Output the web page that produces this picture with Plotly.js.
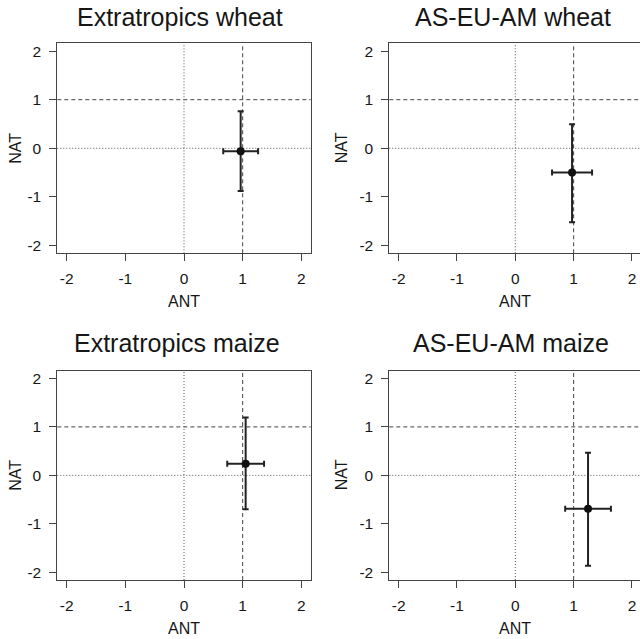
<!DOCTYPE html>
<html>
<head>
<meta charset="utf-8">
<script src="https://cdn.plot.ly/plotly-3.0.1.min.js"></script>
<style>
html,body{margin:0;padding:0;overflow:hidden;background:#fff;width:640px;height:639px;}
#chart{width:642px;height:639px;}
</style>
</head>
<body>
<div id="chart"></div>
<script>
// ---- data ----
const titles = ["Extratropics wheat", "AS-EU-AM wheat", "Extratropics maize", "AS-EU-AM maize"];
const ant = [0.966, 0.973, 1.051, 1.247];
const antErr = [0.297, 0.343, 0.314, 0.392];
const nat = [-0.062, -0.496, 0.242, -0.688];
const natErrPlus = [0.826, 0.992, 0.950, 1.157];
const natErrMinus = [0.818, 1.027, 0.944, 1.178];
const tickVals = [-2, -1, 0, 1, 2];
const tickText = ["-2", "-1", "0", "1", "2"];
const dashedRef = 1;
const dottedRef = 0;
const xLabel = "ANT";
const yLabel = "NAT";

// ---- layout geometry (pixels) ----
const W = 642, H = 639;
const colPx = [[57.3, 310.7], [389.3, 641.3]];
const rowPx = [[43.3, 253.3], [370.7, 580.0]];
const titlePos = [[180, 17.3], [512.5, 17.3], [177, 343.3], [511, 343.3]];
const xTitleY = [302, 628.5];
const yTitleX = [15.5, 341];
const FONT = "Liberation Sans, Arial, Helvetica, sans-serif";
const TXT = "#161616";

const traces = [];
const layout = {
  width: W, height: H,
  margin: {l: 0, r: 0, t: 0, b: 0, pad: 0},
  paper_bgcolor: "#fff", plot_bgcolor: "#fff",
  showlegend: false,
  font: {family: FONT, color: TXT},
  shapes: [], annotations: []
};

for (let i = 0; i < 4; i++) {
  const r = Math.floor(i / 2), c = i % 2;
  const sfx = i === 0 ? "" : String(i + 1);
  const xa = "x" + sfx, ya = "y" + sfx;
  traces.push({
    type: "scatter", mode: "markers",
    x: [ant[i]], y: [nat[i]],
    xaxis: xa, yaxis: ya,
    marker: {size: 8, color: "#111"},
    error_x: {type: "data", array: [antErr[i]], thickness: 2, width: 3, color: "#222"},
    error_y: {type: "data", symmetric: false, array: [natErrPlus[i]], arrayminus: [natErrMinus[i]], thickness: 2, width: 3, color: "#222"},
    hoverinfo: "skip"
  });
  const axCommon = {
    range: [-2.16, 2.16], tickvals: tickVals, ticktext: tickText,
    ticks: "outside", ticklen: 7, tickwidth: 1, tickcolor: "#444",
    showline: true, mirror: true, linecolor: "#444", linewidth: 1,
    showgrid: false, zeroline: false, fixedrange: true,
    tickfont: {family: FONT, size: 15.5, color: TXT}
  };
  layout["xaxis" + sfx] = Object.assign({}, axCommon, {
    domain: [colPx[c][0] / W, colPx[c][1] / W], anchor: ya, ticklabelstandoff: 4
  });
  layout["yaxis" + sfx] = Object.assign({}, axCommon, {
    domain: [1 - rowPx[r][1] / H, 1 - rowPx[r][0] / H], anchor: xa, ticklabelstandoff: 5
  });
  // reference lines
  layout.shapes.push({type: "line", xref: xa, yref: ya + " domain", x0: dashedRef, x1: dashedRef, y0: 0, y1: 1,
    line: {color: "#444", width: 1, dash: "4px,3px"}, layer: "below"});
  layout.shapes.push({type: "line", xref: xa + " domain", yref: ya, x0: 0, x1: 1, y0: dashedRef, y1: dashedRef,
    line: {color: "#444", width: 1, dash: "4px,3px"}, layer: "below"});
  layout.shapes.push({type: "line", xref: xa, yref: ya + " domain", x0: dottedRef, x1: dottedRef, y0: 0, y1: 1,
    line: {color: "#555", width: 1, dash: "1px,2px"}, layer: "below"});
  layout.shapes.push({type: "line", xref: xa + " domain", yref: ya, x0: 0, x1: 1, y0: dottedRef, y1: dottedRef,
    line: {color: "#555", width: 1, dash: "1px,2px"}, layer: "below"});
  // titles
  layout.annotations.push({text: titles[i], xref: "paper", yref: "paper",
    x: titlePos[i][0] / W, y: 1 - titlePos[i][1] / H, xanchor: "center", yanchor: "middle",
    showarrow: false, font: {family: FONT, size: 25, color: TXT}});
  layout.annotations.push({text: xLabel, xref: "paper", yref: "paper",
    x: (colPx[c][0] + colPx[c][1]) / 2 / W, y: 1 - xTitleY[r] / H, xanchor: "center", yanchor: "middle",
    showarrow: false, font: {family: FONT, size: 16, color: TXT}});
  layout.annotations.push({text: yLabel, xref: "paper", yref: "paper", textangle: -90,
    x: yTitleX[c] / W, y: 1 - (rowPx[r][0] + rowPx[r][1]) / 2 / H, xanchor: "center", yanchor: "middle",
    showarrow: false, font: {family: FONT, size: 16, color: TXT}});
}

Plotly.newPlot("chart", traces, layout, {staticPlot: true, displayModeBar: false});
</script>
</body>
</html>
